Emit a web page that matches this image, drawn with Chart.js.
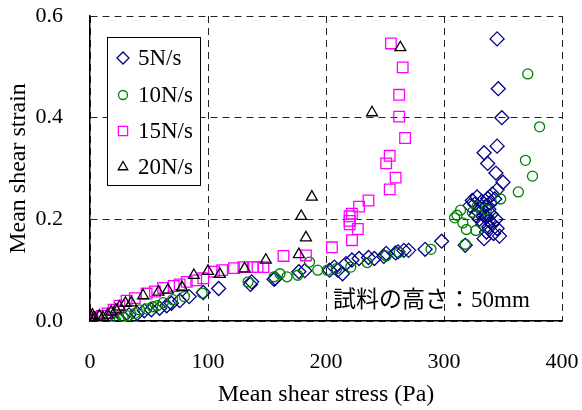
<!DOCTYPE html>
<html>
<head>
<meta charset="utf-8">
<script src="https://cdn.jsdelivr.net/npm/chart.js@4/dist/chart.umd.min.js"></script>
<style>
  html, body { margin: 0; padding: 0; background: #fff; }
  canvas { display: block; }
</style>
</head>
<body>
<canvas id="strain-chart" width="582" height="410"></canvas>
<script>
// Mean shear stress (Pa) vs mean shear strain, one series per loading rate
const seriesNames = ['5N/s', '10N/s', '15N/s', '20N/s'];

const rate5 = [
  [20, 0.0], [24, 0.004], [28, 0.008], [33, 0.012], [40, 0.015], [46, 0.02], [52, 0.022],
  [59, 0.025], [65, 0.03], [69, 0.035], [76, 0.04], [84, 0.048], [96, 0.056], [109, 0.064],
  [136, 0.072], [137, 0.077], [156, 0.082], [157, 0.084], [177, 0.097], [182, 0.099],
  [203, 0.1], [207, 0.106], [210, 0.1], [214, 0.093], [217, 0.113], [222, 0.12], [228, 0.123],
  [236, 0.125], [241, 0.123], [249, 0.127], [251, 0.133], [259, 0.134], [261, 0.136],
  [266, 0.139], [270, 0.139], [284, 0.141], [298, 0.157], [318, 0.149],
  [322, 0.227], [324, 0.237], [326, 0.23], [327, 0.208], [328, 0.244], [329, 0.215],
  [330, 0.2], [331, 0.221], [332, 0.235], [333, 0.19], [334, 0.208], [334, 0.162],
  [335, 0.225], [336, 0.205], [336, 0.175], [337, 0.241], [338, 0.198], [338, 0.22],
  [338, 0.185], [339, 0.232], [340, 0.21], [341, 0.25], [341, 0.191], [342, 0.172],
  [343, 0.24], [344, 0.2], [345, 0.182], [345, 0.258], [347, 0.167], [350, 0.273],
  [344, 0.291], [337, 0.31], [334, 0.331], [345, 0.344], [349, 0.4], [346, 0.457], [345, 0.555]
];

const rate10 = [
  [22, 0.0], [25, 0.004], [28, 0.007], [32, 0.01], [38, 0.015], [42, 0.022], [48, 0.024],
  [53, 0.028], [57, 0.03], [62, 0.036], [70, 0.042], [80, 0.048], [95, 0.055], [134, 0.077],
  [156, 0.087], [161, 0.093], [167, 0.087], [176, 0.09], [186, 0.116], [193, 0.1], [201, 0.1],
  [209, 0.103], [221, 0.106], [235, 0.115], [251, 0.128], [262, 0.135], [289, 0.141],
  [309, 0.203], [311, 0.208], [314, 0.218], [316, 0.193], [319, 0.18], [318, 0.151],
  [324, 0.214], [327, 0.178], [328, 0.225], [336, 0.219], [348, 0.24], [363, 0.254],
  [369, 0.316], [375, 0.285], [381, 0.382], [371, 0.486]
];

const rate15 = [
  [0, 0.002], [2, 0.005], [5, 0.008], [10, 0.01], [15, 0.015], [20, 0.022], [25, 0.03],
  [31, 0.04], [38, 0.045], [48, 0.054], [55, 0.058], [62, 0.065], [71, 0.069], [76, 0.072],
  [82, 0.077], [90, 0.08], [96, 0.084], [105, 0.097], [112, 0.1], [122, 0.104], [130, 0.106],
  [138, 0.106], [142, 0.106], [147, 0.106], [164, 0.128], [183, 0.129], [205, 0.145],
  [222, 0.159], [227, 0.181], [220, 0.19], [220, 0.197], [220, 0.206], [222, 0.211],
  [228, 0.225], [236, 0.237], [254, 0.259], [259, 0.282], [251, 0.31], [254, 0.325],
  [267, 0.36], [262, 0.402], [262, 0.445], [265, 0.499], [255, 0.546]
];

const rate20 = [
  [0, 0.003], [1, 0.008], [2, 0.012], [4, 0.005], [8, 0.01], [11, 0.007], [15, 0.012],
  [18, 0.018], [22, 0.022], [25, 0.028], [30, 0.035], [35, 0.036], [45, 0.05], [58, 0.057],
  [66, 0.061], [78, 0.066], [88, 0.09], [100, 0.098], [110, 0.092], [131, 0.103],
  [149, 0.12], [177, 0.131], [179, 0.206], [183, 0.164], [188, 0.244], [239, 0.41], [263, 0.538]
];

const xTicks = [0, 100, 200, 300, 400];
const yTicks = [0.0, 0.2, 0.4, 0.6];
const noteText = '試料の高さ：50mm';

const SERIF = "'Liberation Serif', 'Times New Roman', serif";

const toPts = arr => arr.map(([x, y]) => ({ x, y }));

// fixed axis box sizes, no extra room for label overhang
const fixBox = (s, size) => {
  if (s.isHorizontal()) s.height = size; else s.width = size;
  s.paddingTop = s.paddingBottom = s.paddingLeft = s.paddingRight = 0;
};

// legend drawn as a framed box inside the plot area
const boxLegend = {
  id: 'boxLegend',
  afterDatasetsDraw(chart) {
    const { ctx } = chart;
    const left = 107, top = 37, w = 93, h = 148;
    ctx.save();
    ctx.fillStyle = '#fff';
    ctx.fillRect(left, top, w, h);
    ctx.strokeStyle = '#000';
    ctx.lineWidth = 1;
    ctx.strokeRect(left + 0.5, top + 0.5, w, h);
    ctx.font = '23px ' + SERIF;
    ctx.textBaseline = 'middle';
    const rows = [58, 95, 131, 167];
    chart.data.datasets.forEach((ds, i) => {
      ctx.strokeStyle = ds.borderColor;
      ctx.fillStyle = 'rgba(0,0,0,0)';
      ctx.lineWidth = ds.borderWidth;
      Chart.helpers.drawPoint(ctx, {
        pointStyle: ds.pointStyle,
        radius: ds.legendRadius,
        rotation: 0,
        borderWidth: ds.borderWidth
      }, 123, rows[i]);
      ctx.fillStyle = '#000';
      ctx.fillText(ds.label, 138, rows[i] + 1);
    });
    ctx.restore();
  }
};

const note = {
  id: 'note',
  afterDraw(chart) {
    const { ctx } = chart;
    ctx.save();
    ctx.font = "23px 'Liberation Serif', 'Noto Sans CJK JP', serif";
    ctx.fillStyle = '#000';
    ctx.textBaseline = 'alphabetic';
    ctx.fillText(noteText, 333, 307);
    ctx.restore();
  }
};

const mk = (label, data, color, style, r, order, legendRadius) => ({
  label,
  data: toPts(data),
  pointStyle: style,
  pointRadius: r,
  pointHoverRadius: r,
  backgroundColor: 'rgba(0,0,0,0)',
  borderColor: color,
  pointBorderWidth: 1.3,
  borderWidth: 1.3,
  showLine: false,
  order,
  legendRadius
});

new Chart(document.getElementById('strain-chart'), {
  type: 'scatter',
  data: {
    datasets: [
      mk(seriesNames[0], rate5, '#000088', 'rectRot', 7, 4, 6),
      mk(seriesNames[1], rate10, '#008000', 'circle', 5, 3, 4.5),
      mk(seriesNames[2], rate15, '#ff00ff', 'rect', 7.5, 2, 6.5),
      mk(seriesNames[3], rate20, '#000000', 'triangle', 6.3, 1, 5.5)
    ]
  },
  options: {
    responsive: false,
    animation: false,
    layout: { padding: { top: 16, right: 20, left: 0, bottom: 0 } },
    plugins: {
      legend: { display: false },
      tooltip: { enabled: false }
    },
    scales: {
      x: {
        type: 'linear',
        min: 0,
        max: 400,
        afterFit: s => fixBox(s, 89),
        afterBuildTicks: s => { s.ticks = xTicks.map(v => ({ value: v })); },
        ticks: { color: '#000', font: { family: SERIF, size: 22 }, padding: 28 },
        grid: { color: '#222', lineWidth: 1, drawTicks: false },
        border: { display: true, color: '#000', width: 1.5, dash: [7, 5] },
        title: {
          display: true,
          text: 'Mean shear stress (Pa)',
          color: '#000',
          font: { family: SERIF, size: 24 },
          padding: { top: 0, bottom: 1 }
        }
      },
      y: {
        type: 'linear',
        min: 0,
        max: 0.6,
        afterFit: s => fixBox(s, 90),
        afterBuildTicks: s => { s.ticks = yTicks.map(v => ({ value: v })); },
        ticks: {
          color: '#000',
          font: { family: SERIF, size: 22 },
          padding: 27,
          callback: v => Number(v).toFixed(1)
        },
        grid: { color: '#222', lineWidth: 1, drawTicks: false },
        border: { display: true, color: '#000', width: 1.5, dash: [7, 5] },
        title: {
          display: true,
          text: 'Mean shear strain',
          color: '#000',
          font: { family: SERIF, size: 24 },
          padding: { top: 4, bottom: 0 }
        }
      }
    }
  },
  plugins: [boxLegend, note]
});
</script>
</body>
</html>
